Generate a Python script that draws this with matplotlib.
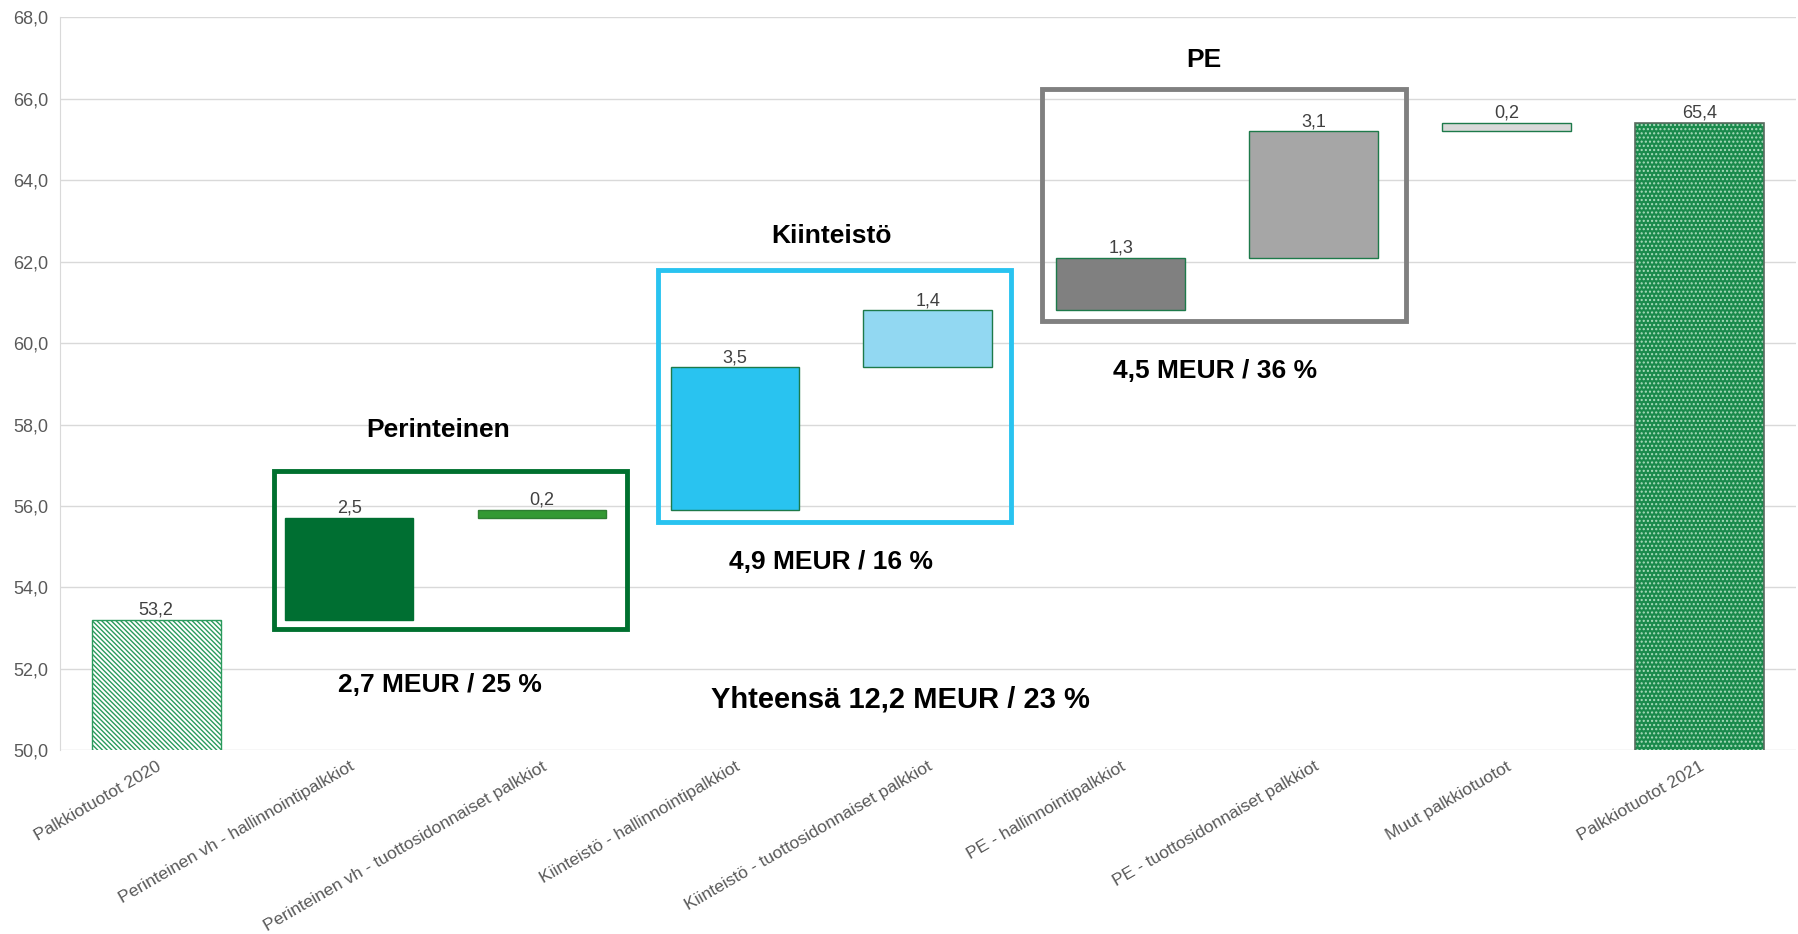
import numpy as np
import matplotlib.pyplot as plt
from matplotlib.patches import Rectangle

plt.rcParams['font.family'] = ['Liberation Sans', 'DejaVu Sans']

# Donnees du graphique en cascade
categories = ["Palkkiotuotot 2020",
              "Perinteinen vh - hallinnointipalkkiot",
              "Perinteinen vh - tuottosidonnaiset palkkiot",
              "Kiinteistö - hallinnointipalkkiot",
              "Kiinteistö - tuottosidonnaiset palkkiot",
              "PE - hallinnointipalkkiot",
              "PE - tuottosidonnaiset palkkiot",
              "Muut palkkiotuotot",
              "Palkkiotuotot 2021"]
alku = 53.2
muutokset = [2.5, 0.2, 3.5, 1.4, 1.3, 3.1, 0.2]
loppu = 65.4
arvo_tekstit = ["53,2", "2,5", "0,2", "3,5", "1,4", "1,3", "3,1", "0,2", "65,4"]

# Couleurs des barres intermediaires
couleurs = ["#006f32", "#339933", "#29c3f0", "#92d8f2", "#808080", "#a6a6a6", "#d9d9d9"]
bordures = ["#006f32", "#2e7d32", "#1d7a4a", "#1d7a4a", "#1d7a4a", "#1d7a4a", "#1d7a4a"]

# Groupes (cadres) : titre, resume, couleur, cadre x0, x1, y0, y1
groupes = [
    ("Perinteinen", "2,7 MEUR / 25 %", "#00702f", 0.61, 2.44, 52.99, 56.85),
    ("Kiinteistö", "4,9 MEUR / 16 %", "#29c3f0", 2.60, 4.43, 55.61, 61.80),
    ("PE", "4,5 MEUR / 36 %", "#808080", 4.59, 6.48, 60.54, 66.23),
]
# positions des textes (x titre, y titre, x resume, y resume)
pos_textes = [(1.464, 57.86, 1.47, 51.6),
              (3.50, 62.62, 3.50, 54.62),
              (5.43, 66.96, 5.49, 59.32)]
yhteensa = "Yhteensä 12,2 MEUR / 23 %"

fig = plt.figure(figsize=(17.99, 9.34), dpi=100)
ax = fig.add_axes([0.0332, 0.1966, 0.965, 0.785])

x = np.arange(len(categories))
w = 0.667

# cumuls
pohjat = alku + np.concatenate([[0], np.cumsum(muutokset)[:-1]])

# barre de depart (hachuree)
ax.bar(x[0], alku, w, color="white", edgecolor="#2a9a5c", hatch="\\\\\\\\\\\\\\", linewidth=1.0, zorder=3)
# barres intermediaires
for i in range(len(muutokset)):
    ax.bar(x[i + 1], muutokset[i], w, bottom=pohjat[i], color=couleurs[i],
           edgecolor=bordures[i], linewidth=1.0, zorder=3)
# barre finale (pointillee)
ax.bar(x[-1], loppu, w, color="#1a8a4c", edgecolor="none", zorder=3)
ax.bar(x[-1], loppu, w, color="none", edgecolor="#a9dcbc", hatch="....", linewidth=0, zorder=3)
ax.bar(x[-1], loppu, w, color="none", edgecolor="#5a6b60", linewidth=1.2, zorder=4)

# etiquettes de valeur
sommets = [alku] + list(pohjat + np.array(muutokset)) + [loppu]
for i in range(len(categories)):
    ax.text(x[i], sommets[i] + 0.03, arvo_tekstit[i], ha="center", va="bottom",
            fontsize=13, color="#404040", zorder=5)

# cadres et textes
for (titre, resume, c, x0, x1, y0, y1), (xt, yt, xr, yr) in zip(groupes, pos_textes):
    ax.add_patch(Rectangle((x0, y0), x1 - x0, y1 - y0, fill=False, edgecolor=c,
                           linewidth=3.5, zorder=6, clip_on=False))
    ax.text(xt, yt, titre, ha="center", va="center", fontsize=19, fontweight="bold", color="black")
    ax.text(xr, yr, resume, ha="center", va="center", fontsize=19, fontweight="bold", color="black")
ax.text(3.857, 51.24, yhteensa, ha="center", va="center", fontsize=21, fontweight="bold", color="black")

ax.set_xlim(-0.5, len(categories) - 0.5)
ax.set_ylim(50, 68)
yt_vals = np.arange(50, 68.1, 2)
ax.set_yticks(yt_vals)
ax.set_yticklabels([f"{v:.1f}".replace(".", ",") for v in yt_vals])
ax.set_xticks(x)
ax.set_xticklabels(categories, rotation=30, ha="right", rotation_mode="anchor")
ax.tick_params(axis="both", length=0, labelsize=13, colors="#595959")
ax.tick_params(axis="x", pad=6, labelsize=12.6)
ax.tick_params(axis="y", pad=8)
ax.grid(axis="y", color="#d9d9d9", linewidth=1.0, zorder=0)
ax.set_axisbelow(True)
for s in ["top", "right", "bottom"]:
    ax.spines[s].set_visible(False)
ax.spines["left"].set_color("#d9d9d9")

plt.savefig("out.png", dpi=100)
plt.close()
